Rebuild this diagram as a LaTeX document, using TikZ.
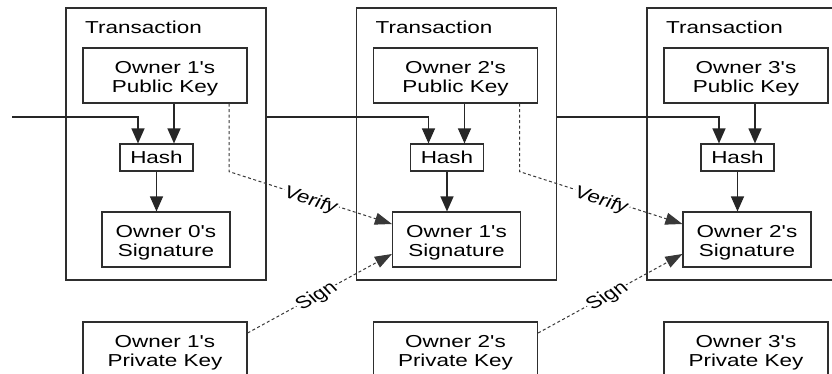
\documentclass[tikz,border=0pt]{standalone}
\usepackage{fontspec}
\newfontfamily\boxfont{Liberation Sans}[FakeStretch=1.3,Ligatures=TeXOff]
\newfontfamily\lblfont{Liberation Sans}[Ligatures=TeXOff]
\usetikzlibrary{arrows.meta,calc}
\begin{document}
\begin{tikzpicture}[x=1pt,y=-1pt,
  box/.style={draw=black!82, line width=1.15pt, align=center, inner sep=0pt,
    font=\boxfont\fontsize{17.3}{19.5}\selectfont, text=black},
  twoline/.style={box, text height=38pt, text depth=3.5pt},
  title/.style={anchor=west, inner sep=0pt, font=\boxfont\fontsize{17.3}{19.5}\selectfont, text=black},
  conn/.style={draw=black!85, line width=1.15pt},
  arr/.style={conn, -{Triangle[length=15pt,width=13pt]}},
  dsh/.style={draw=black!78, line width=1pt, dash pattern=on 3pt off 2.5pt,
    -{Triangle[length=17pt,width=12pt]}},
  lbl/.style={font=\lblfont\fontsize{17.3}{19}\selectfont, text=black, fill=white,
    inner sep=1pt, transform shape}]
\clip (0,0) rectangle (832,373);
\fill[white] (0,0) rectangle (832,373);
\foreach \i/\dx in {0/0,1/290.5,2/581}{
  \pgfmathtruncatemacro\nx{\i+1}
  \node[box, minimum width=200pt, minimum height=272pt] (tx\i) at (166+\dx,144) {};
  \node[title] (tt\i) at (85+\dx,27) {Transaction};
  \node[twoline, minimum width=164pt, minimum height=55pt] (pk\i) at (165+\dx,75.5) {Owner \nx's\\Public Key};
  \node[box, minimum width=73pt, minimum height=27pt] (hash\i) at (156.5+\dx,157.5) {Hash};
  \node[twoline, minimum width=128pt, minimum height=55pt] (sig\i) at (166+\dx,239.5) {Owner \i's\\Signature};
  \node[twoline, minimum width=164pt, minimum height=55pt] (priv\i) at (165+\dx,349.5) {Owner \nx's\\Private Key};
  \draw[arr] ([xshift=9pt]pk\i.south) -- ([xshift=9pt]pk\i.south |- hash\i.north);
  \draw[arr] (hash\i.south) -- (hash\i.south |- sig\i.north);
}
% chain lines into each hash
\coordinate (start) at (12,117);
\draw[arr] (start) -| ([xshift=-18.5pt]hash0.north);
\draw[arr] (tx0.east |- start) -| ([xshift=-18.5pt]hash1.north);
\draw[arr] (tx1.east |- start) -| ([xshift=-18.5pt]hash2.north);
% verify and sign
\foreach \a/\b in {0/1,1/2}{
  \coordinate (vtop\a) at ([xshift=64pt]pk\a.south);
  \coordinate (vcor\a) at (vtop\a |- hash\a.south);
  \coordinate (vend\a) at ([yshift=15.5pt]sig\b.west);
  \draw[dsh] (vtop\a) -- (vcor\a) -- (vend\a);
  \coordinate (sst\a) at ([yshift=16.5pt]priv\a.east);
  \coordinate (send\a) at ([yshift=-14.5pt]sig\b.west);
  \draw[dsh] (sst\a) -- (send\a);
  \begin{scope}[xscale=1.3]
    \node[lbl, rotate=-22.8] (ver\a) at ([yshift=-3pt]$(vcor\a)!0.5!(vend\a)$) {Verify};
    \node[lbl, rotate=35.3] (sgn\a) at ([yshift=-1.5pt]$(sst\a)!0.48!(send\a)$) {Sign};
  \end{scope}
}
\end{tikzpicture}
\end{document}
